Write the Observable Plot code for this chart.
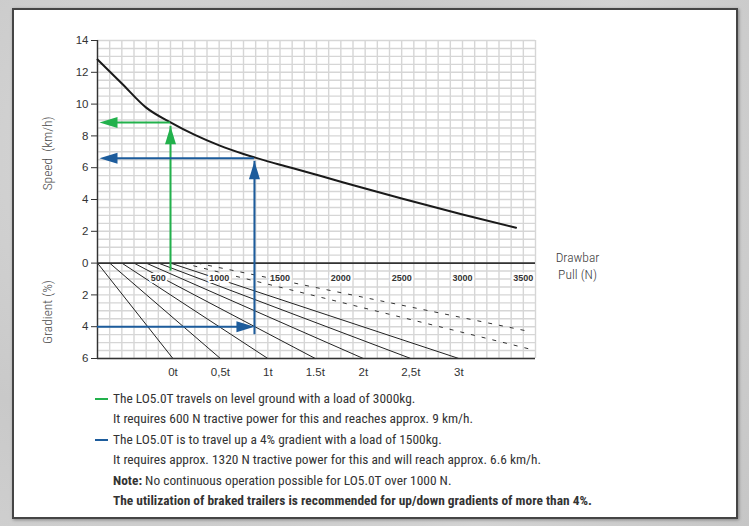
<!DOCTYPE html>
<html>
<head>
<meta charset="utf-8">
<script src="https://cdn.jsdelivr.net/npm/d3@7"></script>
<script src="https://cdn.jsdelivr.net/npm/@observablehq/plot@0.6"></script>
<style>
  html, body { margin: 0; padding: 0; }
  body { width: 749px; height: 526px; background: #cdcdcd; position: relative; overflow: hidden;
         background-image: radial-gradient(circle at 20% 30%, #d8d8d8 0, #c9c9c9 40%, #d3d3d3 70%, #c6c6c6 100%); }
  #panel { position: absolute; left: 12px; top: 8px; width: 722px; height: 507px; background: #fff;
           border: 2px solid #454545; box-shadow: 1px 1px 3px rgba(0,0,0,0.35); }
  #chart { position: absolute; left: 0; top: 0; }
  #legend { position: absolute; left: 95px; top: 389px; font-family: "Liberation Sans Narrow", "Arial Narrow", "Roboto Condensed", sans-serif;
            font-size: 13.4px; color: #333; }
  .row { position: relative; height: 20.4px; line-height: 20.4px; padding-left: 18px; white-space: nowrap; }
  .sw { position: absolute; left: 0; top: 9px; width: 13px; height: 2px; }
</style>
</head>
<body>
<div id="panel"></div>
<div id="chart"></div>
<div id="legend"></div>
<script>
// ---- data ----
const curvePull  = [0, 200, 400, 600, 800, 1000, 1200, 1400, 1600, 2000, 2500, 3000, 3440];
const curveSpeed = [12.8, 11.3, 9.78, 8.85, 8.06, 7.4, 6.86, 6.4, 5.98, 5.12, 4.06, 3.06, 2.22];

const loadLabels = ["0t", "0,5t", "1t", "1.5t", "2t", "2,5t", "3t"];
const loadStartN = [0, 100, 200, 300, 400, 500, 600];      // pull at 0 % gradient
const loadEndN   = [620, 1010, 1400, 1790, 2185, 2575, 2970]; // pull at 6 % gradient

const dashStartN  = [700, 820];
const dashEndN    = [3550, 3550];
const dashEndGrad = [5.4, 4.3];

const pullLabels = [500, 1000, 1500, 2000, 2500, 3000, 3500];
const speedTicks = [0, 2, 4, 6, 8, 10, 12, 14];
const gradTicks  = [2, 4, 6];

// worked examples
const greenPull = 600, greenSpeed = 8.85, greenTip = 8.6;
const bluePull = 1290, blueSpeed = 6.6, blueTip = 6.4, blueGrad = 4;

const GREEN = "#22b14c", BLUE = "#1d5c9c";
const NARROW = "Liberation Sans Narrow, Arial Narrow, Roboto Condensed, sans-serif";

// ---- derived tables ----
const loads = loadLabels.map((l, i) => ({label: l, x1: loadStartN[i], x2: loadEndN[i]}));
const dashes = dashStartN.map((s, i) => ({x1: s, x2: dashEndN[i], g: dashEndGrad[i]}));
const curve = curvePull.map((p, i) => ({pull: p, speed: curveSpeed[i]}));
const yTicks = [...gradTicks.map(g => -g), ...speedTicks];

const gridX = d3.range(0, 3601, 100);
const gridY = d3.range(-6, 14.01, 0.5);

const arrowSym = { draw(ctx) { ctx.moveTo(0, 0); ctx.lineTo(5.5, 18); ctx.lineTo(-5.5, 18); ctx.closePath(); } };

const chart = Plot.plot({
  width: 749, height: 390,
  marginLeft: 97, marginRight: 214, marginTop: 40, marginBottom: 32,
  x: {domain: [0, 3600], axis: null},
  y: {domain: [-6, 14], axis: null},
  style: {background: "transparent", fontFamily: "Liberation Sans, Arial, sans-serif", color: "#333"},
  marks: [
    Plot.ruleX(gridX, {y1: -6, y2: 14, stroke: "#d6d6d6", strokeWidth: 1.4}),
    Plot.ruleY(gridY, {x1: 0, x2: 3600, stroke: "#d6d6d6", strokeWidth: 1.4}),
    // load lines
    Plot.link(loads, {x1: "x1", y1: () => 0, x2: "x2", y2: () => -6, stroke: "#222", strokeWidth: 1}),
    Plot.link(dashes, {x1: "x1", y1: () => 0, x2: "x2", y2: d => -d.g, stroke: "#333", strokeWidth: 1, strokeDasharray: "4,7"}),
    // pull labels with halo
    Plot.text(pullLabels, {x: d => d, y: () => -0.95, text: d => String(d), fontSize: 9, fontWeight: "bold",
      fill: "#333", stroke: "white", strokeWidth: 4}),
    // main rules
    Plot.ruleY([0, -6], {x1: 0, x2: 3600, stroke: "#333", strokeWidth: 1.6}),
    Plot.ruleX([0], {y1: -6, y2: 14, stroke: "#333", strokeWidth: 1.4}),
    Plot.axisY({ticks: yTicks, tickFormat: d => Math.abs(d), tickSize: 6, tickPadding: 3, fontSize: 11.5, label: null, color: "#333"}),
    // speed curve
    Plot.line(curve, {x: "pull", y: "speed", curve: "monotone-x", stroke: "#1a1a1a", strokeWidth: 2}),
    // green example
    Plot.ruleX([greenPull], {y1: 0, y2: greenTip, stroke: GREEN, strokeWidth: 2, insetTop: 8}),
    Plot.ruleY([greenSpeed], {x1: 0, x2: greenPull, stroke: GREEN, strokeWidth: 2, insetLeft: 10}),
    Plot.dot([{x: greenPull, y: greenTip}], {x: "x", y: "y", symbol: arrowSym, r: 5, fill: GREEN, stroke: "none"}),
    Plot.dot([{x: 0, y: greenSpeed}], {x: "x", y: "y", dx: 2, symbol: arrowSym, r: 5, fill: GREEN, stroke: "none", rotate: -90}),
    // blue example
    Plot.ruleY([-blueGrad], {x1: 0, x2: bluePull, stroke: BLUE, strokeWidth: 2, insetRight: 8}),
    Plot.ruleX([bluePull], {y1: -blueGrad, y2: blueTip, stroke: BLUE, strokeWidth: 2, insetTop: 8}),
    Plot.ruleY([blueSpeed], {x1: 0, x2: bluePull, stroke: BLUE, strokeWidth: 2, insetLeft: 10}),
    Plot.dot([{x: bluePull, y: blueTip}], {x: "x", y: "y", symbol: arrowSym, r: 5, fill: BLUE, stroke: "none"}),
    Plot.dot([{x: 0, y: blueSpeed}], {x: "x", y: "y", dx: 2, symbol: arrowSym, r: 5, fill: BLUE, stroke: "none", rotate: -90}),
    Plot.dot([{x: bluePull, y: -blueGrad}], {x: "x", y: "y", symbol: arrowSym, r: 5, fill: BLUE, stroke: "none", rotate: 90}),
    // load labels under the chart
    Plot.text(loads, {x: "x2", y: () => -6, dy: 14, text: "label", fontSize: 11.5, fill: "#333"}),
    // axis titles
    Plot.text(["Speed  (km/h)"], {x: () => 0, y: () => 6.9, dx: -50, text: d => d, rotate: -90, fontSize: 13.5, fontWeight: 300, fontFamily: NARROW, fill: "#4a4a4a"}),
    Plot.text(["Gradient (%)"], {x: () => 0, y: () => -3.08, dx: -50, text: d => d, rotate: -90, fontSize: 13.5, fontWeight: 300, fontFamily: NARROW, fill: "#4a4a4a"}),
    Plot.text(["Drawbar\nPull (N)"], {x: () => 3600, y: () => 0, dx: 42, dy: 2, text: d => d, fontSize: 13.5, fontWeight: 300, lineHeight: 1.3, fontFamily: NARROW, fill: "#3a3a3a"})
  ]
});
document.getElementById("chart").appendChild(chart);

// legend
const legendRows = [
  {sw: GREEN, html: "The LO5.0T travels on level ground with a load of 3000kg."},
  {sw: null, html: "It requires 600 N tractive power for this and reaches approx. 9 km/h."},
  {sw: BLUE, html: "The LO5.0T is to travel up a 4% gradient with a load of 1500kg."},
  {sw: null, html: "It requires approx. 1320 N tractive power for this and will reach approx. 6.6 km/h."},
  {sw: null, html: "<b>Note:</b> No continuous operation possible for LO5.0T over 1000 N."},
  {sw: null, html: "<b>The utilization of braked trailers is recommended for up/down gradients of more than 4%.</b>"}
];
const leg = document.getElementById("legend");
for (const r of legendRows) {
  const d = document.createElement("div");
  d.className = "row";
  d.innerHTML = (r.sw ? `<span class="sw" style="background:${r.sw}"></span>` : "") + r.html;
  leg.appendChild(d);
}
</script>
</body>
</html>
